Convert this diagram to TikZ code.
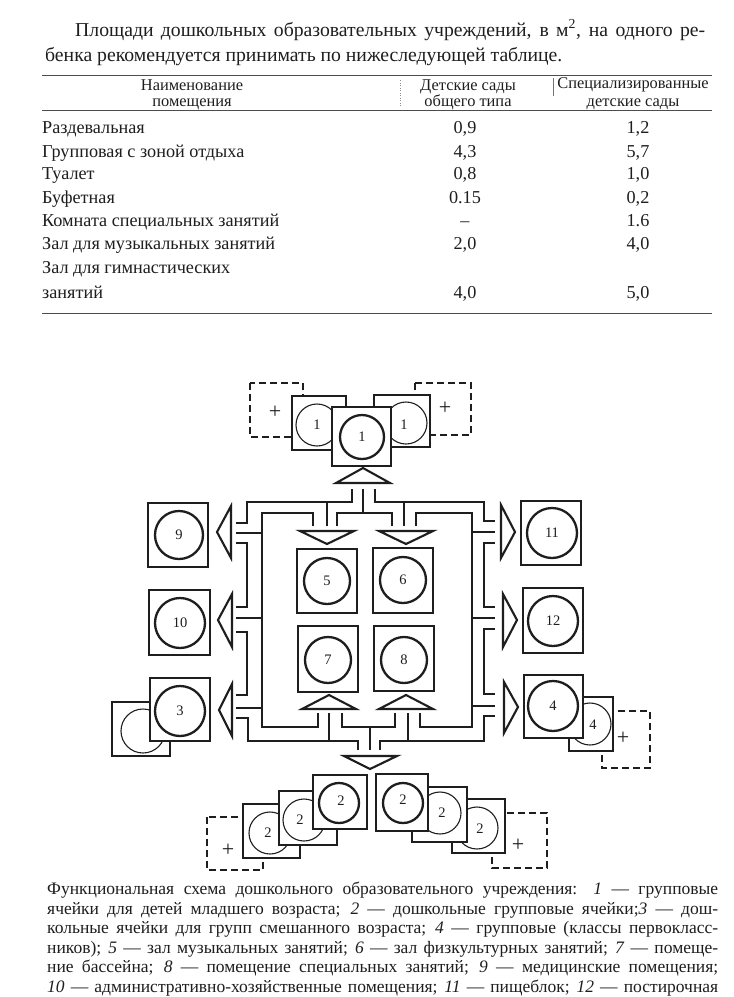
\documentclass[tikz,border=0pt]{standalone}
\usepackage{fontspec}
\setmainfont{Liberation Serif}
\newcommand\bodyf{\fontsize{19.7}{22}\selectfont}
\newcommand\tabf{\fontsize{18.2}{20}\selectfont}
\newcommand\headf{\fontsize{16.4}{18}\selectfont}
\newcommand\capf{\fontsize{17.5}{19}\selectfont}
\newcommand\labf{\fontsize{14.5}{14.5}\selectfont}
\newcommand\plusf{\fontsize{22}{22}\selectfont}
\definecolor{ink}{HTML}{1E1E1E}
\tikzset{
  wall/.style={draw=ink, line width=2.2pt, line join=miter},
  mainsq/.style={draw=ink, line width=2.6pt, fill=white},
  mainc/.style={draw=ink, line width=2.3pt},
  secsq/.style={draw=ink, line width=1.1pt, fill=white},
  secc/.style={draw=ink, line width=1.1pt},
  dsq/.style={draw=ink, line width=1.1pt, dash pattern=on 7pt off 4pt},
  tri/.style={draw=ink, line width=2.1pt, line join=miter, fill=white},
  lab/.style={font=\labf, inner sep=0pt, text=ink},
  plus/.style={font=\plusf, inner sep=0pt, text=ink},
  txt/.style={anchor=base west, inner sep=0pt, text=ink},
  ctxt/.style={anchor=base, inner sep=0pt, text=ink},
  rule/.style={draw=black!70, line width=0.7pt},
}
\newcommand\mroom[5]{%
  \draw[mainsq] (#1) rectangle (#2);
  \draw[mainc] (#3) circle (#4);
  \node[lab] (m#5) at (#3) {#5};}
\begin{document}
\begin{tikzpicture}[x=1pt,y=-1pt]
\fill[white] (0,0) rectangle (734,997);
\useasboundingbox (0,0) rectangle (734,997);

% ---------- top paragraph ----------
\node[txt, font=\bodyf] (p1) at (75,36) {\makebox[630pt][s]{Площади дошкольных образовательных учреждений, в м\textsuperscript{2}, на одного ре-}};
\node[txt, font=\bodyf] (p2) at (45,61) {бенка рекомендуется принимать по нижеследующей таблице.};

% ---------- table ----------
\draw[rule] (42,75) -- (712,75);
\draw[rule] (42,110) -- (712,110);
\draw[rule] (42,313) -- (712,313);
\draw[draw=black!45, line width=0.5pt, dash pattern=on 1pt off 1.5pt] (400,80) -- (400,106);
\draw[draw=black!55, line width=0.6pt] (553,78) -- (553,96);
\node[ctxt, font=\headf] (h1a) at (192,90) {Наименование};
\node[ctxt, font=\headf] (h1b) at (192,106) {помещения};
\node[ctxt, font=\headf] (h2a) at (468,90) {Детские сады};
\node[ctxt, font=\headf] (h2b) at (468,106) {общего типа};
\node[ctxt, font=\headf] (h3a) at (633,88) {Специализированные};
\node[ctxt, font=\headf] (h3b) at (633,106) {детские сады};

\node[txt, font=\tabf] (r1) at (42,133) {Раздевальная};
\node[txt, font=\tabf] (r2) at (42,157) {Групповая с зоной отдыха};
\node[txt, font=\tabf] (r3) at (42,179) {Туалет};
\node[txt, font=\tabf] (r4) at (42,203) {Буфетная};
\node[txt, font=\tabf] (r5) at (42,226) {Комната специальных занятий};
\node[txt, font=\tabf] (r6) at (42,249) {Зал для музыкальных занятий};
\node[txt, font=\tabf] (r7) at (42,273) {Зал для гимнастических};
\node[txt, font=\tabf] (r8) at (42,298) {занятий};

\node[ctxt, font=\tabf] (a1) at (465,133) {0,9};
\node[ctxt, font=\tabf] (a2) at (465,157) {4,3};
\node[ctxt, font=\tabf] (a3) at (465,179) {0,8};
\node[ctxt, font=\tabf] (a4) at (465,203) {0.15};
\node[ctxt, font=\tabf] (a5) at (465,226) {–};
\node[ctxt, font=\tabf] (a6) at (465,249) {2,0};
\node[ctxt, font=\tabf] (a8) at (465,298) {4,0};

\node[ctxt, font=\tabf] (b1) at (638,133) {1,2};
\node[ctxt, font=\tabf] (b2) at (638,157) {5,7};
\node[ctxt, font=\tabf] (b3) at (638,179) {1,0};
\node[ctxt, font=\tabf] (b4) at (638,203) {0,2};
\node[ctxt, font=\tabf] (b5) at (638,226) {1.6};
\node[ctxt, font=\tabf] (b6) at (638,249) {4,0};
\node[ctxt, font=\tabf] (b8) at (638,298) {5,0};

% ---------- corridors ----------
\draw[wall] (236,523) -- (247,523) -- (247,502) -- (352,502) -- (352,489);
\draw[wall] (363,489) -- (363,513);
\draw[wall] (337,526) -- (337,513) -- (392,513) -- (392,526);
\draw[wall] (375,489) -- (375,502) -- (484,502) -- (484,521) -- (495,521);
\draw[wall] (327,502) -- (327,526);
\draw[wall] (404,502) -- (404,526);
\draw[wall] (313,526) -- (313,513) -- (262,513) -- (262,727) -- (318,727) -- (318,713);
\draw[wall] (416,526) -- (416,513) -- (472,513) -- (472,727) -- (420,727) -- (420,713);
% left stubs
\draw[wall] (236,533) -- (262,533);
\draw[wall] (236,543) -- (247,543) -- (247,607) -- (236,607);
\draw[wall] (236,618) -- (262,618);
\draw[wall] (236,632) -- (247,632) -- (247,695) -- (236,695);
\draw[wall] (236,708) -- (262,708);
\draw[wall] (236,718) -- (248,718) -- (248,741) -- (358,741) -- (358,750);
% right stubs
\draw[wall] (472,532) -- (495,532);
\draw[wall] (495,543) -- (484,543) -- (484,607) -- (495,607);
\draw[wall] (472,618) -- (495,618);
\draw[wall] (495,629) -- (484,629) -- (484,694) -- (495,694);
\draw[wall] (472,706) -- (495,706);
\draw[wall] (495,716) -- (484,716) -- (484,741) -- (380,741) -- (380,750);
% bottom middle
\draw[wall] (329,713) -- (329,741);
\draw[wall] (342,713) -- (342,727) -- (395,727) -- (395,713);
\draw[wall] (370,727) -- (370,750);
\draw[wall] (408,713) -- (408,741);

% ---------- triangles ----------
\draw[tri] (336,483) -- (390,483) -- (363,468) -- cycle;
\draw[tri] (300,531) -- (354,531) -- (327,544) -- cycle;
\draw[tri] (379,531) -- (433,531) -- (406,544) -- cycle;
\draw[tri] (302,709) -- (356,709) -- (329,695) -- cycle;
\draw[tri] (379,709) -- (433,709) -- (406,695) -- cycle;
\draw[tri] (344,756) -- (397,756) -- (370,769) -- cycle;
\draw[tri] (231,506) -- (231,558) -- (217,532) -- cycle;
\draw[tri] (232,594) -- (232,647) -- (218,620) -- cycle;
\draw[tri] (232,684) -- (232,736) -- (219,710) -- cycle;
\draw[tri] (501,505) -- (501,558) -- (515,532) -- cycle;
\draw[tri] (503,594) -- (503,647) -- (517,620) -- cycle;
\draw[tri] (504,682) -- (504,733) -- (518,707) -- cycle;

% ---------- top group (1) ----------
\draw[dsq] (250,383) rectangle (303,437);
\node[plus] (pl1) at (275,412) {+};
\draw[dsq] (415,383) rectangle (471,435);
\node[plus] (pl2) at (445,408) {+};
\draw[secsq] (292,396) rectangle (346,450);
\draw[secc] (317,425) circle (21pt);
\node[lab] (s1a) at (317,425) {1};
\draw[secsq] (374,395) rectangle (430,447);
\draw[secc] (406,423) circle (21pt);
\node[lab] (s1b) at (404,425) {1};
\mroom{332,407}{391,466}{362,437}{22pt}{1}

% ---------- side rooms ----------
\mroom{148,503}{208,567}{179,535}{24pt}{9}
\mroom{149,590}{210,655}{180,623}{25pt}{10}
\draw[secsq] (112,702) rectangle (170,756);
\draw[secc] (143,731) circle (22pt);
\mroom{150,678}{210,741}{180,711}{25pt}{3}
\mroom{521,501}{581,565}{552,533}{25pt}{11}
\mroom{523,588}{583,653}{553,621}{25pt}{12}
\draw[dsq] (602,711) rectangle (650,768);
\node[plus] (pl4) at (623,738) {+};
\draw[secsq] (569,697) rectangle (613,751);
\draw[secc] (590,724) circle (21pt);
\node[lab] (s4) at (593,725) {4};
\mroom{524,675}{583,738}{553,706}{25pt}{4}

% ---------- center rooms ----------
\mroom{297,549}{357,613}{327,581}{23pt}{5}
\mroom{373,548}{433,613}{403,580}{23pt}{6}
\mroom{298,626}{358,692}{328,660}{23pt}{7}
\mroom{374,626}{434,691}{404,660}{23pt}{8}

% ---------- bottom groups (2) ----------
\draw[dsq] (207,817) rectangle (263,870);
\node[plus] (pl5) at (228,850) {+};
\draw[secsq] (243,804) rectangle (300,858);
\draw[secc] (270,833) circle (21pt);
\node[lab] (s2a) at (268,833) {2};
\draw[secsq] (279,791) rectangle (337,845);
\draw[secc] (304,820) circle (21pt);
\node[lab] (s2b) at (300,820) {2};
\draw[mainsq] (313,775) rectangle (367,829);
\draw[mainc] (339,803) circle (20pt);
\node[lab] (m2a) at (341,801) {2};

\draw[dsq] (492,813) rectangle (547,868);
\node[plus] (pl6) at (518,845) {+};
\draw[secsq] (452,799) rectangle (505,853);
\draw[secc] (477,828) circle (21pt);
\node[lab] (s2c) at (480,829) {2};
\draw[secsq] (412,787) rectangle (467,842);
\draw[secc] (440,813) circle (21pt);
\node[lab] (s2d) at (442,813) {2};
\draw[mainsq] (376,774) rectangle (428,831);
\draw[mainc] (403,803) circle (20pt);
\node[lab] (m2b) at (403,800) {2};

% ---------- caption ----------
\node[txt, font=\capf] (c1) at (47,894) {\makebox[671pt][s]{Функциональная схема дошкольного образовательного учреждения: \textit{1} — групповые}};
\node[txt, font=\capf] (c2) at (47,914) {\makebox[671pt][s]{ячейки для детей младшего возраста; \textit{2} — дошкольные групповые ячейки;\textit{3} — дош-}};
\node[txt, font=\capf] (c3) at (47,933) {\makebox[671pt][s]{кольные ячейки для групп смешанного возраста; \textit{4} — групповые (классы первокласс-}};
\node[txt, font=\capf] (c4) at (47,953) {\makebox[671pt][s]{ников); \textit{5} — зал музыкальных занятий; \textit{6} — зал физкультурных занятий; \textit{7} — помеще-}};
\node[txt, font=\capf] (c5) at (47,972) {\makebox[671pt][s]{ние бассейна; \textit{8} — помещение специальных занятий; \textit{9} — медицинские помещения;}};
\node[txt, font=\capf] (c6) at (47,992) {\makebox[671pt][s]{\textit{10} — административно-хозяйственные помещения; \textit{11} — пищеблок; \textit{12} — постирочная}};
\end{tikzpicture}
\end{document}
